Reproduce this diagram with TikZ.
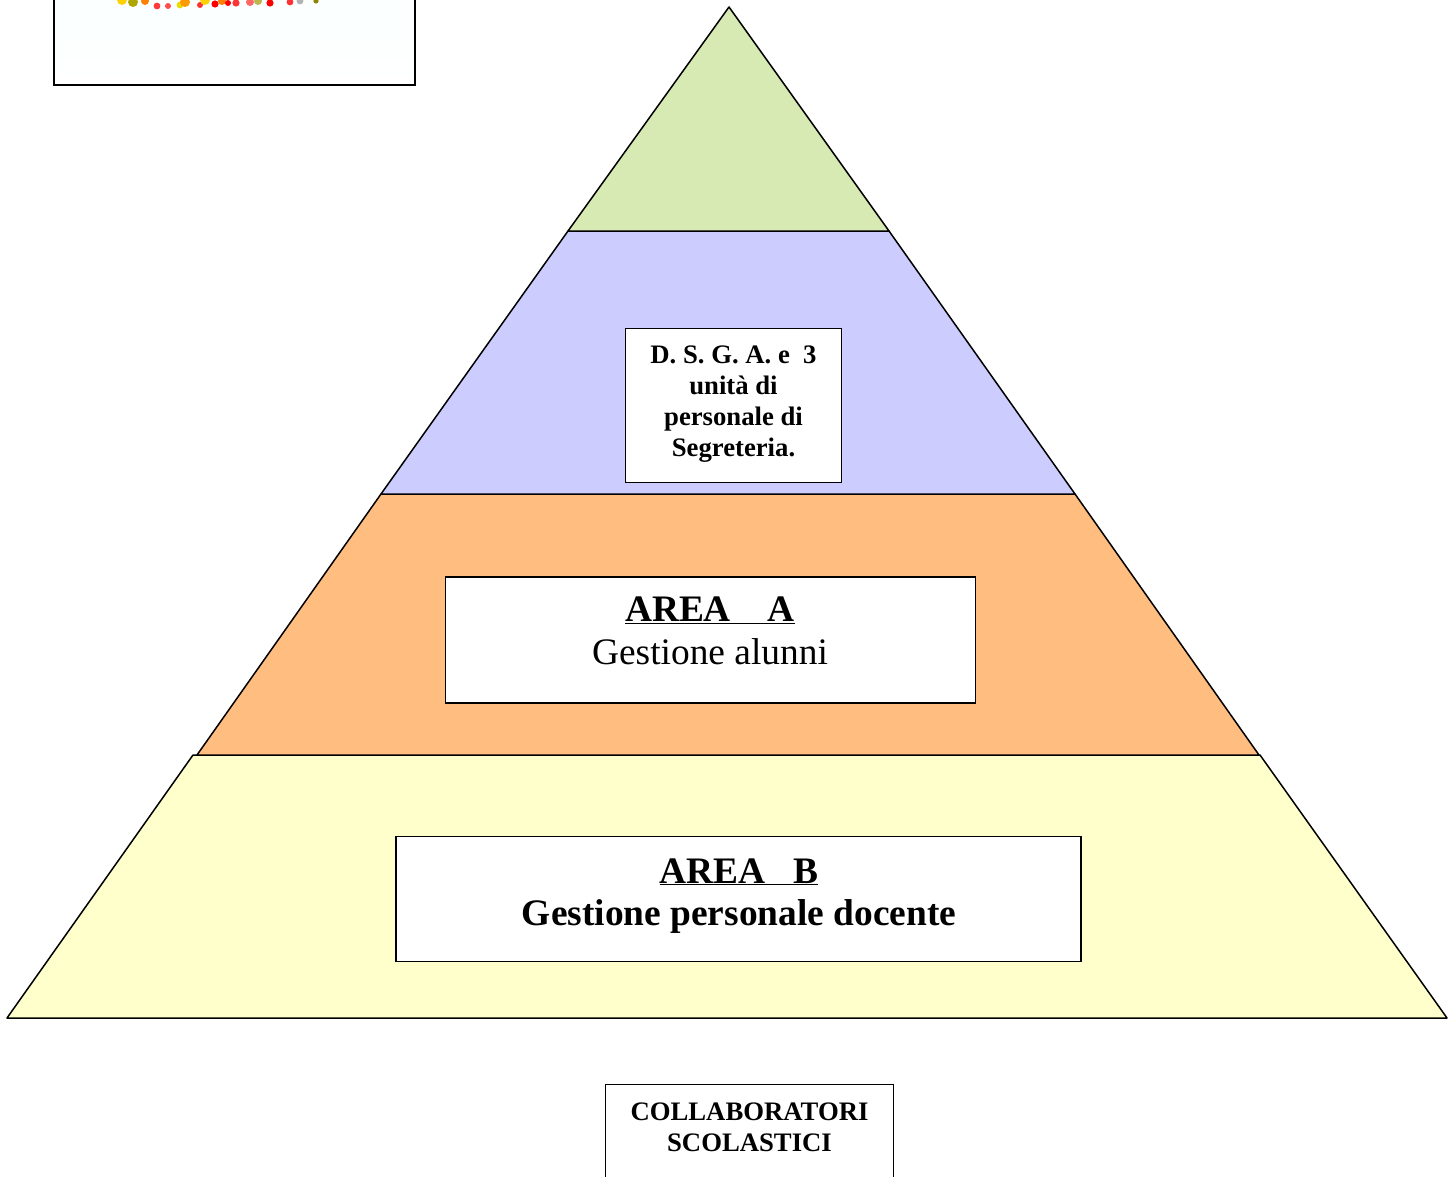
\documentclass[tikz,border=0pt]{standalone}
\usepackage{fontspec}
\setmainfont{Liberation Serif}
\definecolor{tiergreen}{HTML}{D8EAB4}
\definecolor{tierblue}{HTML}{CCCCFF}
\definecolor{tierorange}{HTML}{FFBD80}
\definecolor{tieryellow}{HTML}{FFFFCC}
\tikzset{
  tier/.style={draw=black,line width=1.5pt,line join=round},
  labelbox/.style={draw=black,fill=white,line width=1.6pt,rectangle},
  boxtext/.style={inner sep=0pt,align=center,text=black},
  smalltext/.style={font=\fontsize{26.7}{31}\selectfont\bfseries},
  bigtext/.style={font=\fontsize{37.4}{42.5}\selectfont}
}
\begin{document}
\begin{tikzpicture}[x=1pt,y=-1pt]
\useasboundingbox (0,0) rectangle (1456,1177);
\begin{scope}
\clip (0,0) rectangle (1456,1177);
% logo box
\node[labelbox,anchor=north west,minimum width=361pt,minimum height=96pt,
      top color=white!90!cyan!20,bottom color=white] (logobox) at (53.2,-11.5) {};
\foreach \x/\y/\c/\r in {122/0/yellow!70!orange/5,133/2/olive!70!yellow/5,145/1/orange/4,
  157/6/red!70!pink/3.4,
  168/6/red!70/3,180/5/yellow!80!olive/3.4,185/2/orange!80!yellow/5,200/5/red!80/3,
  205/0/yellow!70!orange/5,
  215/4/red/3.6,222/1/orange/4,228/3/red/3,
  236/3/red!80/3.6,250/2/red!60/4,258/1/olive!60/4,270/3/red/3.6,
  290/2/red!80/3.4,300/1/gray!60/3.4,316/1/olive/2.6}
  \fill[\c] (\x,\y) circle (\r pt);
\end{scope}
% pyramid
\draw[tier,fill=tieryellow] (193,755) -- (1260,755) -- (1447,1018) -- (7,1018) -- cycle;
\draw[tier,fill=tierorange] (381,494) -- (1075,494) -- (1259,755) -- (197,755) -- cycle;
\draw[tier,fill=tierblue] (568,231) -- (889,231) -- (1075,494) -- (381,494) -- cycle;
\draw[tier,fill=tiergreen] (729,7) -- (889,231) -- (568,231) -- cycle;
% boxes
\node[labelbox,anchor=north west,minimum width=216pt,minimum height=154pt] (dsgabox) at (624.8,327.5) {};
\node[boxtext,smalltext] (dsga) at (733.5,404) {D. S. G. A. e\ \ 3\\ unità di\\ personale di\\ Segreteria.};
\node[labelbox,anchor=north west,minimum width=530pt,minimum height=126pt] (areaabox) at (444.5,576) {};
\node[boxtext,bigtext] (areaa) at (710,631) {\textbf{\underline{AREA\hspace{37pt}A}}\\ Gestione alunni};
\node[labelbox,anchor=north west,minimum width=685pt,minimum height=125pt] (areabbox) at (395.3,835.5) {};
\node[boxtext,bigtext] (areab) at (739,896) {\textbf{\underline{AREA\hspace{28pt}B}}\\ \textbf{Gestione personale docente}};
\begin{scope}
\clip (0,0) rectangle (1456,1177);
\node[labelbox,anchor=north west,minimum width=288pt,minimum height=120pt] (collabbox) at (604.5,1083.5) {};
\end{scope}
\node[boxtext,smalltext] (collab) at (749.5,1127) {COLLABORATORI\\ SCOLASTICI};
\end{tikzpicture}
\end{document}
